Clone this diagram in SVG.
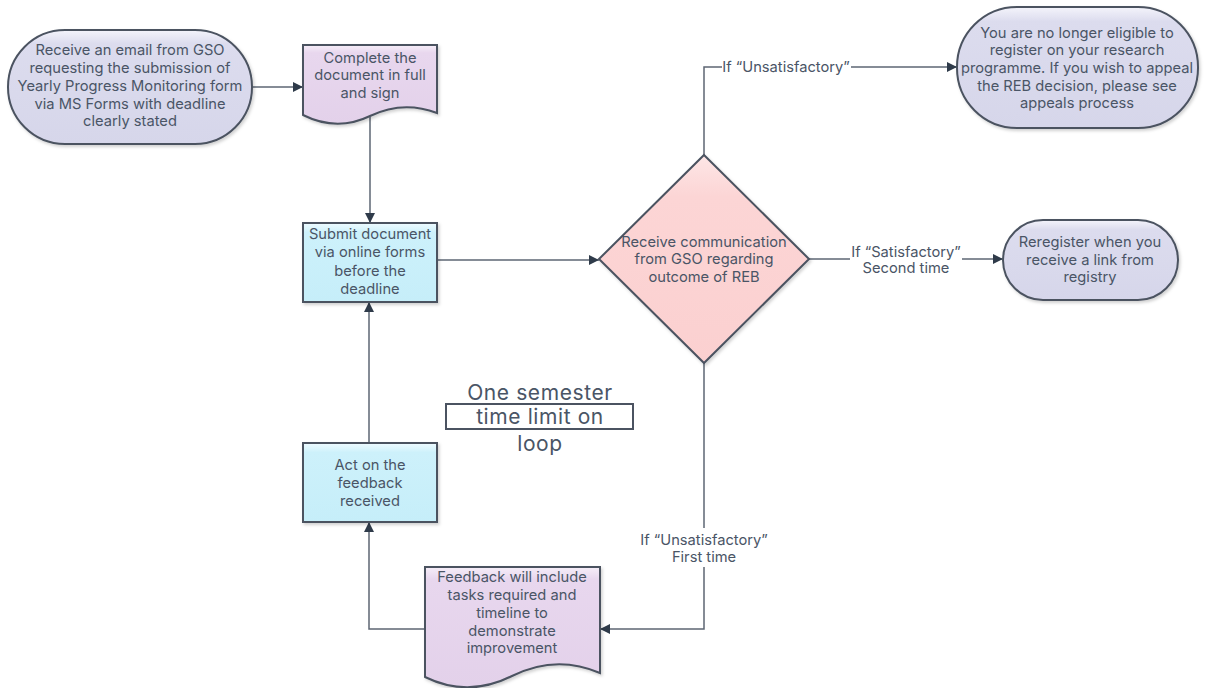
<svg xmlns="http://www.w3.org/2000/svg" width="1205" height="688" viewBox="0 0 1205 688">
  <defs>
    <linearGradient id="gTerm" x1="0" y1="0" x2="0" y2="1">
      <stop offset="0" stop-color="#f4f4fb"/>
      <stop offset="0.12" stop-color="#dcdcee"/>
      <stop offset="1" stop-color="#d6d6ea"/>
    </linearGradient>
    <linearGradient id="gDoc" x1="0" y1="0" x2="0" y2="1">
      <stop offset="0" stop-color="#f6eef8"/>
      <stop offset="0.1" stop-color="#e8d7ee"/>
      <stop offset="1" stop-color="#e3d1ea"/>
    </linearGradient>
    <linearGradient id="gProc" x1="0" y1="0" x2="0" y2="1">
      <stop offset="0" stop-color="#effbff"/>
      <stop offset="0.12" stop-color="#cdf1fb"/>
      <stop offset="1" stop-color="#c6eef9"/>
    </linearGradient>
    <linearGradient id="gDec" x1="0" y1="0" x2="0" y2="1">
      <stop offset="0" stop-color="#fde6e6"/>
      <stop offset="0.2" stop-color="#fcd5d5"/>
      <stop offset="1" stop-color="#fbd0d0"/>
    </linearGradient>
    <marker id="arrow" viewBox="0 0 10 10" refX="10" refY="5" markerWidth="10" markerHeight="10" markerUnits="userSpaceOnUse" orient="auto">
      <path d="M0,0 L10,5 L0,10 Z" fill="#2f3b4a"/>
    </marker>
    <filter id="shadow" x="-10%" y="-10%" width="125%" height="130%">
      <feDropShadow dx="1.5" dy="2" stdDeviation="1.5" flood-color="#000" flood-opacity="0.18"/>
    </filter>
  </defs>
  <style>
    .shape { stroke: #4b5361; stroke-width: 2; filter: url(#shadow); }
    .term { fill: url(#gTerm); }
    .doc { fill: url(#gDoc); }
    .proc { fill: url(#gProc); }
    .dec { fill: url(#gDec); }
    .label { font-family: Inter, "Liberation Sans", sans-serif; font-size: 14.7px; fill: #4a5566; text-anchor: middle; }
    .big { font-family: Inter, "Liberation Sans", sans-serif; font-size: 21px; letter-spacing: 0.6px; fill: #4a5566; text-anchor: middle; }
    .conn { fill: none; stroke: #5d6673; stroke-width: 1.5; }
  </style>

  <!-- connectors -->
  <g id="connectors">
    <path class="conn" d="M252,87 H303" marker-end="url(#arrow)"/>
    <path class="conn" d="M370,117 V223" marker-end="url(#arrow)"/>
    <path class="conn" d="M437,260 H599" marker-end="url(#arrow)"/>
    <path class="conn" d="M704,155 V67 H722"/>
    <path class="conn" d="M851,67 H957" marker-end="url(#arrow)"/>
    <path class="conn" d="M809,259 H850"/>
    <path class="conn" d="M962,259 H1003" marker-end="url(#arrow)"/>
    <path class="conn" d="M704,363 V528"/>
    <path class="conn" d="M704,567 V629 H600" marker-end="url(#arrow)"/>
    <path class="conn" d="M425,629 H369 V522" marker-end="url(#arrow)"/>
    <path class="conn" d="M369,443 V302" marker-end="url(#arrow)"/>
    <text class="label" x="786" y="72">If “Unsatisfactory”</text>
    <text class="label" x="906" y="257">If “Satisfactory”</text>
    <text class="label" x="906" y="273">Second time</text>
    <text class="label" x="704" y="545">If “Unsatisfactory”</text>
    <text class="label" x="704" y="562">First time</text>
  </g>

  <!-- start -->
  <g id="start">
    <rect class="shape term" x="8" y="30" width="244" height="114" rx="57" ry="57"/>
    <text class="label" x="130" y="55">Receive an email from GSO</text>
    <text class="label" x="130" y="73">requesting the submission of</text>
    <text class="label" x="130" y="91">Yearly Progress Monitoring form</text>
    <text class="label" x="130" y="109">via MS Forms with deadline</text>
    <text class="label" x="130" y="126">clearly stated</text>
  </g>

  <!-- complete document -->
  <g id="complete-doc">
    <path class="shape doc" d="M303,45 H437 V113 Q403,100 370,116 Q337,132 303,115 Z"/>
    <text class="label" x="370" y="63">Complete the</text>
    <text class="label" x="370" y="80">document in full</text>
    <text class="label" x="370" y="98">and sign</text>
  </g>

  <!-- submit -->
  <g id="submit">
    <rect class="shape proc" x="303" y="223" width="134" height="79"/>
    <text class="label" x="370" y="239">Submit document</text>
    <text class="label" x="370" y="257">via online forms</text>
    <text class="label" x="370" y="276">before the</text>
    <text class="label" x="370" y="294">deadline</text>
  </g>

  <!-- decision -->
  <g id="decision">
    <path class="shape dec" d="M704,155 L809,259 L704,363 L599,259 Z"/>
    <text class="label" x="704" y="247">Receive communication</text>
    <text class="label" x="704" y="264">from GSO regarding</text>
    <text class="label" x="704" y="282">outcome of REB</text>
  </g>

  <!-- not eligible -->
  <g id="not-eligible">
    <rect class="shape term" x="957" y="7" width="241" height="121" rx="60" ry="60"/>
    <text class="label" x="1077" y="38">You are no longer eligible to</text>
    <text class="label" x="1077" y="55">register on your research</text>
    <text class="label" x="1077" y="73">programme. If you wish to appeal</text>
    <text class="label" x="1077" y="91">the REB decision, please see</text>
    <text class="label" x="1077" y="108">appeals process</text>
  </g>

  <!-- reregister -->
  <g id="reregister">
    <rect class="shape term" x="1003" y="220" width="175" height="80" rx="40" ry="40"/>
    <text class="label" x="1090" y="247">Reregister when you</text>
    <text class="label" x="1090" y="265">receive a link from</text>
    <text class="label" x="1090" y="282">registry</text>
  </g>

  <!-- feedback document -->
  <g id="feedback-doc">
    <path class="shape doc" d="M425,567 H600 V673 Q556,654 512,676 Q468,698 425,677 Z"/>
    <text class="label" x="512" y="582">Feedback will include</text>
    <text class="label" x="512" y="600">tasks required and</text>
    <text class="label" x="512" y="618">timeline to</text>
    <text class="label" x="512" y="636">demonstrate</text>
    <text class="label" x="512" y="653">improvement</text>
  </g>

  <!-- act on feedback -->
  <g id="act">
    <rect class="shape proc" x="303" y="443" width="134" height="79"/>
    <text class="label" x="370" y="470">Act on the</text>
    <text class="label" x="370" y="488">feedback</text>
    <text class="label" x="370" y="506">received</text>
  </g>

  <!-- loop note -->
  <g id="loop-note">
    <rect x="446" y="404" width="187" height="25" fill="#ffffff" stroke="#4b5361" stroke-width="2"/>
    <text class="big" x="540" y="400">One semester</text>
    <text class="big" x="540" y="424">time limit on</text>
    <text class="big" x="540" y="451">loop</text>
  </g>
</svg>
